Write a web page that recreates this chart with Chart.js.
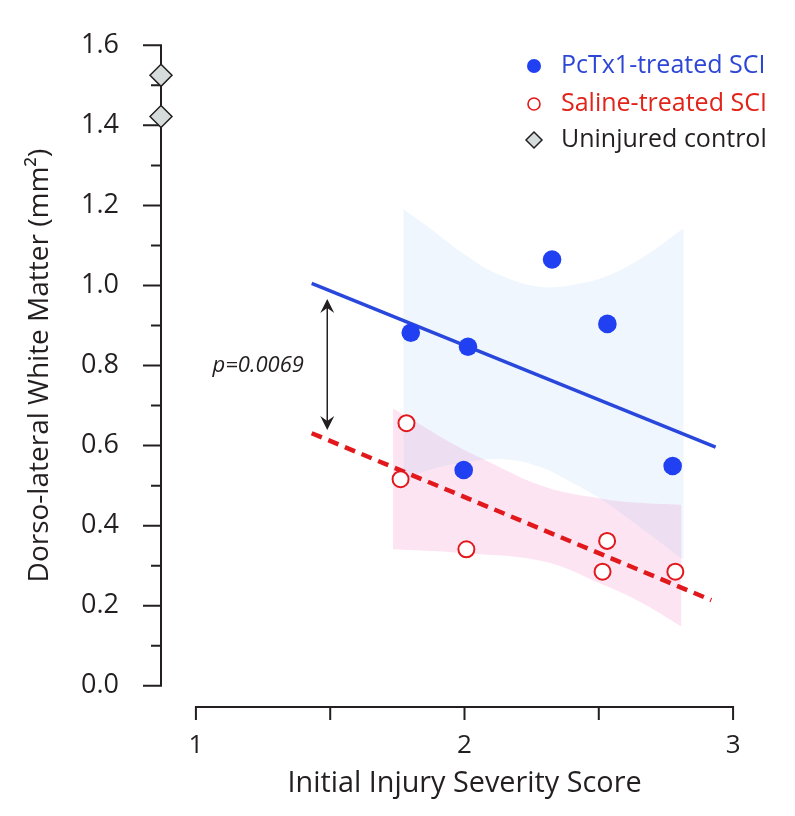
<!DOCTYPE html>
<html>
<head>
<meta charset="utf-8">
<script src="https://cdn.jsdelivr.net/npm/chart.js@4.4.1/dist/chart.umd.min.js"></script>
<style>
html,body{margin:0;padding:0;background:#ffffff;}
#wrap{width:795px;height:816px;}
</style>
</head>
<body>
<div id="wrap"><canvas id="c" width="795" height="816"></canvas></div>
<script>
// ---------- data ----------
const controlX = [0.870, 0.870];
const controlY = [1.525, 1.422];

const pctxX = [1.800, 2.013, 1.997, 2.326, 2.532, 2.775];
const pctxY = [0.882, 0.847, 0.539, 1.065, 0.904, 0.549];

const salineX = [1.784, 1.762, 2.007, 2.531, 2.514, 2.785];
const salineY = [0.656, 0.516, 0.341, 0.362, 0.285, 0.285];

const pctxFitX = [1.431, 2.935];
const pctxFitY = [1.005, 0.596];
const salineFitX = [1.431, 2.919];
const salineFitY = [0.631, 0.214];

const pctxBandUpperX = [1.772, 1.871, 1.995, 2.119, 2.280, 2.429, 2.553, 2.677, 2.816];
const pctxBandUpperY = [1.191, 1.143, 1.080, 1.030, 0.997, 1.005, 1.030, 1.076, 1.143];
const pctxBandLowerX = [1.772, 1.889, 2.013, 2.144, 2.280, 2.404, 2.504, 2.652, 2.816];
const pctxBandLowerY = [0.518, 0.543, 0.560, 0.566, 0.547, 0.506, 0.468, 0.397, 0.314];

const salineBandUpperX = [1.734, 1.827, 1.952, 2.076, 2.299, 2.504, 2.652, 2.808];
const salineBandUpperY = [0.693, 0.656, 0.606, 0.564, 0.497, 0.468, 0.457, 0.452];
const salineBandLowerX = [1.734, 2.007, 2.299, 2.504, 2.652, 2.808];
const salineBandLowerY = [0.341, 0.331, 0.310, 0.256, 0.210, 0.148];

const xRange = [0.870, 3.130];
const yRange = [0, 1.6];
const xTickValues = [1, 2, 3];
const xTickMarks = [1, 1.5, 2, 2.5, 3];
const yTickValues = [0, 0.2, 0.4, 0.6, 0.8, 1.0, 1.2, 1.4, 1.6];
const yMinorTicks = [0.1, 0.3, 0.5, 0.7, 0.9, 1.1, 1.3, 1.5];
const yAxisAtX = 0.870;
const xAxisAtY = -0.053;

const arrowX = 1.489;
const arrowY = [0.639, 0.966];
const pValueText = 'p=0.0069';
const pValueAt = [1.232, 0.800];

const seriesNames = ['PcTx1-treated SCI', 'Saline-treated SCI', 'Uninjured control'];
const xTitle = 'Initial Injury Severity Score';
const yTitle = 'Dorso-lateral White Matter (mm\u00B2)';

// ---------- helpers ----------
const pts = (xs, ys) => xs.map((v, i) => ({x: v, y: ys[i]}));
const FONT = "'Open Sans', 'Noto Sans', sans-serif";
const INK = '#231f20';
const BLUE = '#2040f2';
const BLUE_LINE = '#2a47dc';
const RED = '#e2191c';

const axesPlugin = {
  id: 'customAxes',
  beforeDatasetsDraw(chart) {
    const {ctx, scales: {x, y}} = chart;
    ctx.save();
    ctx.strokeStyle = INK;
    ctx.lineWidth = 2;
    ctx.lineJoin = 'miter';
    const ax = x.getPixelForValue(yAxisAtX);
    const yTop = y.getPixelForValue(yTickValues[yTickValues.length - 1]);
    const yBot = y.getPixelForValue(yTickValues[0]);
    ctx.beginPath();
    ctx.moveTo(ax - 18, yTop);
    ctx.lineTo(ax, yTop);
    ctx.lineTo(ax, yBot);
    ctx.lineTo(ax - 18, yBot);
    yTickValues.slice(1, -1).forEach(v => {
      const py = y.getPixelForValue(v);
      ctx.moveTo(ax, py); ctx.lineTo(ax - 18, py);
    });
    yMinorTicks.forEach(v => {
      const py = y.getPixelForValue(v);
      ctx.moveTo(ax, py); ctx.lineTo(ax - 10, py);
    });
    ctx.stroke();

    const ay = y.getPixelForValue(xAxisAtY);
    const x0 = x.getPixelForValue(xTickMarks[0]);
    const x1 = x.getPixelForValue(xTickMarks[xTickMarks.length - 1]);
    ctx.beginPath();
    ctx.moveTo(x0, ay + 13);
    ctx.lineTo(x0, ay);
    ctx.lineTo(x1, ay);
    ctx.lineTo(x1, ay + 13);
    xTickMarks.slice(1, -1).forEach(v => {
      const px = x.getPixelForValue(v);
      ctx.moveTo(px, ay); ctx.lineTo(px, ay + 13);
    });
    ctx.stroke();
    ctx.restore();
  }
};

function arrowHead(ctx, tx, ty, dir) {
  const L = 14, W = 7, N = 9;
  ctx.beginPath();
  ctx.moveTo(tx, ty);
  ctx.lineTo(tx - W, ty - dir * L);
  ctx.lineTo(tx, ty - dir * N);
  ctx.lineTo(tx + W, ty - dir * L);
  ctx.closePath();
  ctx.fill();
}

const annotatePlugin = {
  id: 'annotate',
  afterDatasetsDraw(chart) {
    const {ctx, scales: {x, y}} = chart;
    ctx.save();
    const px = x.getPixelForValue(arrowX);
    const pyLow = y.getPixelForValue(arrowY[0]);
    const pyHigh = y.getPixelForValue(arrowY[1]);
    ctx.strokeStyle = INK; ctx.fillStyle = INK; ctx.lineWidth = 1.5;
    ctx.beginPath();
    ctx.moveTo(px, pyHigh + 8);
    ctx.lineTo(px, pyLow - 8);
    ctx.stroke();
    arrowHead(ctx, px, pyHigh, -1);
    arrowHead(ctx, px, pyLow, 1);
    ctx.font = "italic 22px " + FONT;
    ctx.textAlign = 'center';
    ctx.textBaseline = 'middle';
    ctx.fillText(pValueText, x.getPixelForValue(pValueAt[0]), y.getPixelForValue(pValueAt[1]));

    // legend
    const lx = 534, tx = 561, rows = [66, 104, 140];
    ctx.font = "25px " + FONT;
    ctx.textAlign = 'left';
    ctx.fillStyle = BLUE;
    ctx.beginPath(); ctx.arc(lx, rows[0], 7, 0, Math.PI * 2); ctx.fill();
    ctx.fillStyle = '#2d46d6';
    ctx.fillText(seriesNames[0], tx, rows[0]);
    ctx.strokeStyle = RED; ctx.lineWidth = 1.6; ctx.fillStyle = '#ffffff';
    ctx.beginPath(); ctx.arc(lx, rows[1], 6, 0, Math.PI * 2); ctx.fill(); ctx.stroke();
    ctx.fillStyle = '#e2231a';
    ctx.fillText(seriesNames[1], tx, rows[1]);
    ctx.fillStyle = '#d5dcdb'; ctx.strokeStyle = INK; ctx.lineWidth = 1.5;
    ctx.beginPath();
    ctx.moveTo(lx, rows[2] - 8); ctx.lineTo(lx + 8, rows[2]); ctx.lineTo(lx, rows[2] + 8); ctx.lineTo(lx - 8, rows[2]);
    ctx.closePath(); ctx.fill(); ctx.stroke();
    ctx.fillStyle = INK;
    ctx.fillText(seriesNames[2], tx, rows[2]);
    ctx.restore();
  }
};

const bandBase = {showLine: true, borderWidth: 0, borderColor: 'rgba(0,0,0,0)', pointRadius: 0, pointHoverRadius: 0, tension: 0.4};
const hiddenGrid = (len) => ({display: true, color: 'rgba(0,0,0,0)', drawOnChartArea: false, drawTicks: true, tickLength: len});

new Chart(document.getElementById('c'), {
  type: 'scatter',
  data: {
    datasets: [
      {label: seriesNames[2], data: pts(controlX, controlY), pointStyle: 'rectRot', pointRadius: 11, pointHoverRadius: 11,
       backgroundColor: '#d5dcdb', borderColor: INK, borderWidth: 1.5, clip: false, order: 0},
      {label: seriesNames[0], data: pts(pctxX, pctxY), pointStyle: 'circle', pointRadius: 9.3, pointHoverRadius: 9.3,
       backgroundColor: BLUE, borderWidth: 0, order: 1},
      {label: seriesNames[1], data: pts(salineX, salineY), pointStyle: 'circle', pointRadius: 8, pointHoverRadius: 8,
       backgroundColor: '#ffffff', borderColor: RED, borderWidth: 2, order: 2},
      {label: 'PcTx1 fit', data: pts(pctxFitX, pctxFitY), showLine: true, pointRadius: 0, borderColor: BLUE_LINE, borderWidth: 3.5, order: 3},
      {label: 'Saline fit', data: pts(salineFitX, salineFitY), showLine: true, pointRadius: 0, borderColor: RED, borderWidth: 4.5, borderDash: [11, 7], order: 4},
      Object.assign({label: 'PcTx1 band low', data: pts(pctxBandLowerX, pctxBandLowerY), fill: false, order: 5}, bandBase),
      Object.assign({label: 'PcTx1 band high', data: pts(pctxBandUpperX, pctxBandUpperY), fill: '-1', backgroundColor: 'rgba(122,180,238,0.12)', order: 6}, bandBase),
      Object.assign({label: 'Saline band low', data: pts(salineBandLowerX, salineBandLowerY), fill: false, order: 7}, bandBase),
      Object.assign({label: 'Saline band high', data: pts(salineBandUpperX, salineBandUpperY), fill: '-1', backgroundColor: 'rgba(245,130,200,0.22)', order: 8}, bandBase)
    ]
  },
  options: {
    responsive: false,
    animation: false,
    devicePixelRatio: 1,
    layout: {padding: {top: 45.3, right: 27, bottom: 0, left: 0}},
    plugins: {legend: {display: false}, tooltip: {enabled: false}},
    scales: {
      x: {
        type: 'linear', bounds: 'data',
        afterDataLimits: s => { s.min = xRange[0]; s.max = xRange[1]; },
        afterFit: s => { s.height = 816 - 685.8; },
        afterBuildTicks: s => { s.ticks = xTickValues.map(v => ({value: v})); },
        grid: hiddenGrid(44),
        border: {display: false},
        ticks: {padding: 0, color: INK, font: {family: FONT, size: 26}, callback: v => String(v)},
        title: {display: true, text: xTitle, color: INK, font: {family: FONT, size: 28.8}, padding: {top: 0, bottom: 15}}
      },
      y: {
        type: 'linear', bounds: 'data',
        afterDataLimits: s => { s.min = yRange[0]; s.max = yRange[1]; },
        afterFit: s => { s.width = 161; },
        afterBuildTicks: s => { s.ticks = yTickValues.map(v => ({value: v})); },
        grid: hiddenGrid(42),
        border: {display: false},
        ticks: {padding: 0, color: INK, font: {family: FONT, size: 27}, callback: v => Number(v).toFixed(1)},
        title: {display: true, text: yTitle, color: INK, font: {family: FONT, size: 28}, padding: {top: 23, bottom: 0}}
      }
    }
  },
  plugins: [axesPlugin, annotatePlugin]
});
</script>
</body>
</html>
